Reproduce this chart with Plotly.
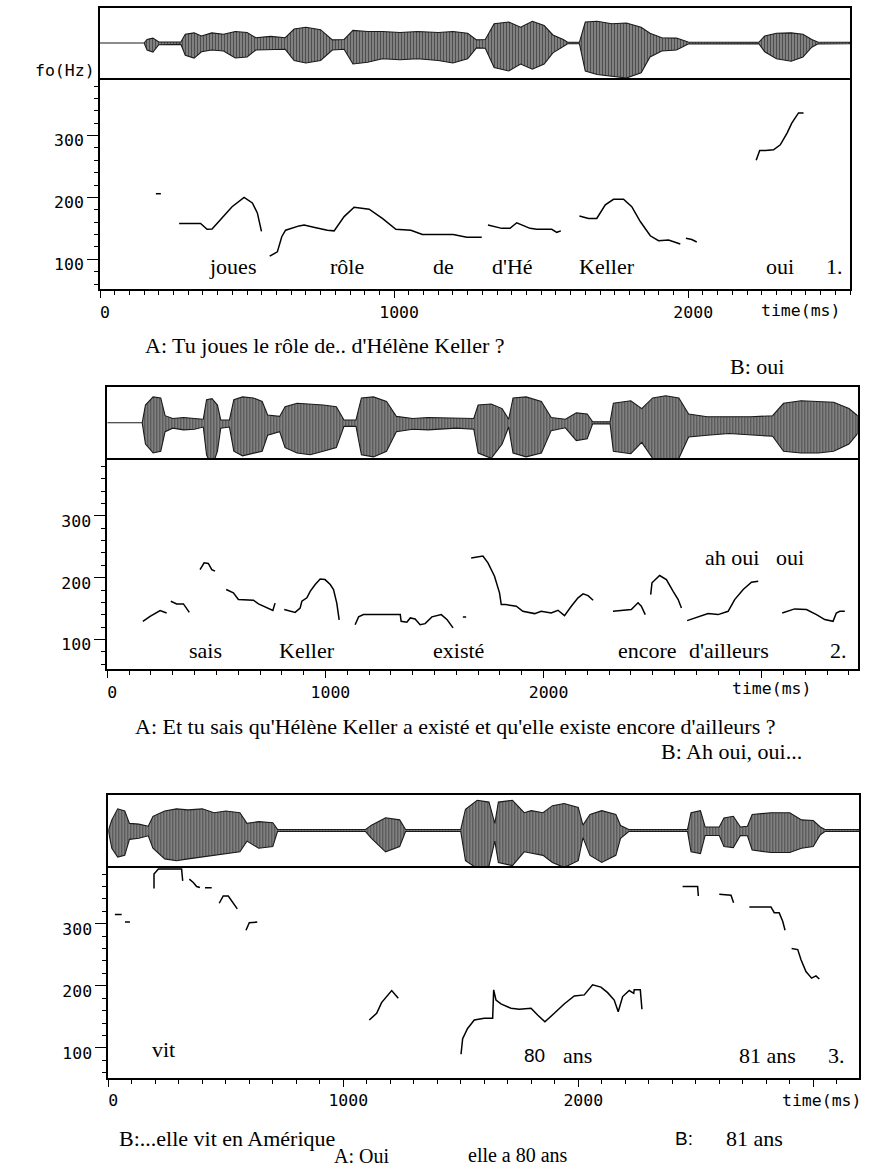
import plotly.graph_objects as go

W, H = 882, 1172

# ---------------- DATA ----------------
# F0 contours (time in ms, F0 in Hz); None separates voiced stretches
p1_f0_t = [190, 207, None,
           269, 342, 364, 381, 449, 490, 518, 535, 549, None,
           577, 603, 618, 631, 677, 694, 734, 773, 796, 830, 864, 915, 960, 1006, 1057, 1096, 1156, 1201, 1247, 1298, None,
           1319, 1366, 1394, 1417, 1462, 1485, 1536, 1553, 1567, None,
           1630, 1661, 1689, 1718, 1746, 1780, 1808, 1837, 1871, 1899, 1933, 1973, None,
           1992, 2012, 2029, None,
           2231, 2243, 2262, 2290, 2313, 2336, 2352, 2375, 2392]
p1_f0_hz = [206, 206, None,
            158, 158, 148.5, 149, 185, 200, 191, 175, 145, None,
            105, 112, 136.5, 147, 154, 155.5, 151, 147, 146, 169, 184, 181, 166, 148.5, 147, 140, 140, 140, 135.5, 135.5, None,
            155.5, 150, 150, 159, 150, 148.5, 148.5, 143.6, 146, None,
            170, 166, 166, 188, 197, 197, 185, 161, 138, 130, 131, 124.7, None,
            134, 132, 128, None,
            260, 276, 276, 277, 285, 304, 320, 336.5, 336.5]

p2_f0_t = [163, 196, 242, 272, None,
           291, 318, 349, 376, None,
           425, 444, 463, 479, 494, None,
           545, 578, 601, 670, 693, 731, 759, 769, None,
           811, 861, 884, 892, 915, 930, 953, 976, 998, 1022, 1037, 1052, 1063, None,
           1136, 1152, 1174, 1343, 1347, 1373, 1389, 1411, 1434, 1457, 1488, 1531, 1558, 1585, None,
           1630, 1645, None,
           1668, 1722, 1745, 1775, 1798, 1806, 1826, 1875, 1905, 1959, 1989, 2035, 2066, 2096, 2127, 2158, 2181, 2204, 2227, None,
           2318, 2402, 2433, 2448, 2466, None,
           2491, 2497, 2532, 2563, 2594, 2617, 2632, None,
           2658, 2708, 2754, 2800, 2846, 2876, 2915, 2953, 2984, None,
           3094, 3151, 3205, 3251, 3289, 3327, 3342, 3358, 3381]
p2_f0_hz = [129.6, 137.7, 147, 143, None,
            162, 157.7, 157.7, 144, None,
            213, 224, 223, 213, 210.6, None,
            181, 175.6, 164.7, 163.6, 157.7, 152, 147, 159, None,
            148.5, 144, 151, 162, 167.5, 178, 189, 198, 197, 189, 181, 159, 132, None,
            124, 136.7, 140.4, 140.4, 129.6, 128, 135, 133.4, 124, 125.8, 136.7, 140.4, 132, 119, None,
            136.7, 136.7, None,
            232, 235, 224, 202.5, 175.6, 156.6, 156.6, 154, 145.8, 142, 145.8, 143, 147.4, 138.8, 154, 167.5, 174, 171, 163.6, None,
            145.8, 148.5, 159.4, 154, 140.4, None,
            172.8, 191.8, 203.6, 197, 178, 164.7, 151, None,
            130.7, 136.7, 142, 140.4, 145.8, 164.7, 181, 192.8, 194.4, None,
            143, 149.6, 148.5, 140.4, 132.3, 129.6, 143, 145.8, 145.8]

p3_f0_t = [28, 57, None,
           71, 92, None,
           194.5, 194.5, 213, 312, 316.6, None,
           344.7, 361.7, 376, 390, None,
           411.5, 440, None,
           472, 489, 510.6, 532, 549, None,
           586, 600, 634, None,
           1110.6, 1142, 1163, 1185, 1206, 1234, None,
           1501, 1508, 1529, 1557.5, 1600, 1635.7, 1640, 1650, 1671, 1713.6, 1749, 1799, 1827, 1858, 1898, 1940,
           1983, 2025.5, 2061, 2096.6, 2125, 2153, 2170, 2189, 2217, 2236, 2238, 2264, 2271, None,
           2444, 2508, 2511, None,
           2600, 2650, 2661, None,
           2728, 2820, 2834, 2855, 2870, 2880, None,
           2908, 2934, 2948, 2969, 2993, 3011.5, 3026]
p3_f0_hz = [315, 315, None,
            302.6, 302.6, None,
            356.7, 380, 388, 388, 369, None,
            371.8, 366.4, 360, 358.3, None,
            358, 358, None,
            333, 344.7, 344.7, 334, 324, None,
            289.6, 301.6, 302.6, None,
            144.9, 155.7, 173, 182.7, 192.4, 180, None,
            89.8, 115, 131.4, 145, 147.6, 147.6, 193.5, 177, 170.8, 163.8, 162.2, 163.8, 153, 142, 155.7, 170.8,
            183.8, 185.4, 201.6, 198, 189, 177, 158.3, 182.7, 192.4, 188, 193.5, 193.5, 162.2, None,
            360, 360, 344.7, None,
            347.5, 345.9, 334, None,
            327, 327, 317.8, 317.8, 304, 289.6, None,
            260, 258.3, 242, 223, 212.4, 216, 211]

# Waveform envelopes (time in ms, upper / lower excursion in % of half-box)
p1_wave_t = [0, 150, 160, 180, 200, 275, 290, 320, 345, 380, 420, 460, 500, 530, 580, 630, 660, 700, 750, 790,
             830, 860, 910, 960, 1020, 1080, 1150, 1200, 1250, 1280, 1310, 1340, 1390, 1430, 1470, 1510, 1540,
             1575, 1590, 1630, 1650, 1690, 1740, 1790, 1840, 1870, 1910, 1960, 2000, 2240, 2260, 2300, 2350,
             2390, 2420, 2440, 2550]
p1_wave_up = [0, 0, 10, 14, 3, 3, 25, 29, 20, 29, 25, 33, 30, 15, 19, 15, 40, 45, 38, 9,
              10, 36, 33, 33, 30, 33, 30, 33, 28, 9, 10, 55, 60, 45, 62, 50, 23,
              10, 2, 2, 60, 62, 55, 57, 45, 28, 15, 14, 3, 2, 20, 28, 29,
              25, 10, 3, 2]
p1_wave_dn = [0, 0, 20, 26, 5, 4, 35, 43, 25, 20, 23, 43, 40, 20, 19, 18, 50, 57, 50, 20,
              18, 60, 55, 45, 48, 45, 50, 57, 45, 14, 15, 70, 80, 60, 75, 60, 28,
              10, 2, 2, 80, 90, 95, 100, 85, 40, 23, 20, 3, 2, 25, 45, 52,
              40, 12, 3, 2]

p2_wave_t = [0, 160, 175, 210, 245, 265, 300, 350, 400, 440, 455, 480, 505, 520, 560, 580, 620, 670, 710, 735,
             790, 815, 870, 930, 990, 1050, 1085, 1140, 1165, 1220, 1280, 1325, 1400, 1470, 1530, 1600, 1680,
             1700, 1760, 1810, 1840, 1860, 1920, 1990, 2035, 2100, 2150, 2200, 2225, 2305, 2320, 2400, 2450,
             2500, 2560, 2620, 2665, 2750, 2850, 2950, 3050, 3100, 3180, 3260, 3330, 3400, 3440]
p2_wave_up = [0, 0, 50, 73, 70, 20, 12, 15, 12, 10, 65, 68, 50, 8, 8, 65, 73, 70, 60, 22,
              18, 45, 55, 53, 50, 45, 8, 8, 70, 73, 60, 18, 12, 15, 14, 12, 12,
              50, 53, 40, 10, 70, 73, 60, 15, 10, 28, 25, 3, 3, 55, 62, 40,
              70, 76, 70, 25, 17, 17, 17, 20, 55, 62, 60, 58, 40, 20]
p2_wave_dn = [0, 0, 60, 85, 80, 25, 15, 20, 18, 12, 90, 124, 80, 15, 12, 80, 93, 85, 80, 35,
              25, 70, 85, 90, 80, 70, 10, 10, 90, 96, 80, 25, 18, 20, 18, 15, 18,
              85, 100, 60, 12, 85, 96, 85, 22, 14, 50, 45, 3, 3, 80, 87, 55,
              100, 127, 100, 40, 35, 30, 35, 38, 80, 85, 85, 80, 60, 30]

p3_wave_t = [0, 15, 40, 70, 90, 130, 170, 190, 240, 290, 340, 400, 450, 500, 560, 590, 640, 700, 720, 1095,
             1120, 1180, 1240, 1265, 1500, 1520, 1570, 1620, 1645, 1660, 1720, 1770, 1800, 1850, 1890, 1940,
             2000, 2020, 2050, 2100, 2160, 2180, 2215, 2465, 2480, 2520, 2540, 2600, 2620, 2660, 2690, 2720,
             2740, 2820, 2900, 2950, 3000, 3030, 3050, 3196]
p3_wave_up = [0, 30, 61, 55, 20, 18, 12, 40, 55, 61, 58, 61, 50, 55, 50, 20, 25, 22, 3, 3,
              15, 36, 30, 3, 3, 60, 85, 80, 20, 80, 85, 50, 56, 50, 70, 76,
              65, 15, 45, 56, 45, 14, 3, 3, 50, 56, 10, 10, 35, 40, 10, 12,
              45, 50, 50, 30, 28, 10, 3, 3]
p3_wave_dn = [0, 50, 75, 70, 25, 22, 15, 50, 80, 85, 80, 75, 70, 65, 60, 30, 50, 45, 3, 3,
              22, 60, 45, 3, 3, 85, 107, 100, 30, 90, 99, 60, 65, 70, 90, 104,
              85, 20, 70, 90, 70, 22, 3, 3, 60, 65, 14, 14, 45, 48, 14, 15,
              55, 62, 62, 50, 45, 12, 3, 3]

# Word labels placed under / over the contours (time ms, Hz)
p1_words = ["joues", "rôle", "de", "d'Hé", "Keller", "oui", "1."]
p1_words_t = [452, 839, 1167, 1404, 1723, 2311, 2498]
p1_words_hz = [88, 88, 88, 88, 88, 88, 88]

p2_words = ["sais", "Keller", "existé", "encore", "d'ailleurs", "2.", "ah oui", "oui"]
p2_words_t = [449, 916, 1609, 2478, 2852, 3350, 2865, 3128]
p2_words_hz = [82, 82, 82, 82, 82, 82, 232, 232]

p3_words = ["vit", "80", "ans", "81 ans", "3."]
p3_words_t = [234, 1813, 1997, 2806, 3097]
p3_words_hz = [97, 87.5, 87.5, 87.5, 87.5]

# Axis ticks
x_tick_vals = [0, 1000, 2000, 3000]
x_tick_text = ["0", "1000", "2000", ""]
y_tick_vals = [100, 200, 300]
y_tick_text = ["100", "200", "300"]

# ---------------- LAYOUT ----------------
SERIF = "Liberation Serif"
SANS = "Liberation Sans"
MONO = "DejaVu Sans Mono"
TXT = 22
MONO_SZ = 16.5

panels = [
    dict(x0=100, x1=850, wy0=8, wy1=78, fy1=289, xmax=2550, minor=50,
         f0=(p1_f0_t, p1_f0_hz), wave=(p1_wave_t, p1_wave_up, p1_wave_dn),
         words=(p1_words, p1_words_t, p1_words_hz)),
    dict(x0=107.3, x1=857.7, wy0=387.3, wy1=458.3, fy1=669.3, xmax=3440, minor=100,
         f0=(p2_f0_t, p2_f0_hz), wave=(p2_wave_t, p2_wave_up, p2_wave_dn),
         words=(p2_words, p2_words_t, p2_words_hz)),
    dict(x0=108.3, x1=859.3, wy0=795, wy1=866, fy1=1077.7, xmax=3196, minor=100,
         f0=(p3_f0_t, p3_f0_hz), wave=(p3_wave_t, p3_wave_up, p3_wave_dn),
         words=(p3_words, p3_words_t, p3_words_hz)),
]

fig = go.Figure()
layout = dict(width=W, height=H, margin=dict(l=0, r=0, t=0, b=0),
              paper_bgcolor="white", plot_bgcolor="white", showlegend=False,
              annotations=[])

LW = 1.7


def sx(k):
    return "x" if k == 1 else f"x{k}"


def sy(k):
    return "y" if k == 1 else f"y{k}"


def kx(k):
    return "xaxis" if k == 1 else f"xaxis{k}"


def ky(k):
    return "yaxis" if k == 1 else f"yaxis{k}"


for i, p in enumerate(panels):
    wa = 2 * i + 1      # waveform axes index
    fa = 2 * i + 2      # f0 axes index
    xdom = [p["x0"] / W, p["x1"] / W]

    # waveform envelope, filled with a dense vertical-stroke texture
    t, up, dn = p["wave"]
    fig.add_trace(go.Scatter(
        x=list(t) + list(t)[::-1],
        y=list(up) + [-d for d in dn][::-1],
        mode="lines", fill="toself", fillcolor="#8a8a8a",
        fillpattern=dict(shape="|", size=3, solidity=0.45, fgcolor="#111111",
                         bgcolor="#8a8a8a", fillmode="overlay"),
        line=dict(color="#1a1a1a", width=1.1),
        xaxis=sx(wa), yaxis=sy(wa), hoverinfo="skip"))
    layout[kx(wa)] = dict(domain=xdom, range=[0, p["xmax"]], showticklabels=False,
                          ticks="", anchor=sy(wa), showline=True, linecolor="black",
                          linewidth=LW, mirror=True, zeroline=False, showgrid=False)
    layout[ky(wa)] = dict(domain=[1 - p["wy1"] / H, 1 - p["wy0"] / H], range=[-100, 100],
                          showticklabels=False, ticks="", anchor=sx(wa), showline=True,
                          linecolor="black", linewidth=LW, mirror=True, zeroline=False,
                          showgrid=False)

    # F0 contour
    ft, fh = p["f0"]
    fig.add_trace(go.Scatter(x=ft, y=fh, mode="lines", connectgaps=False,
                             line=dict(color="black", width=1.5),
                             xaxis=sx(fa), yaxis=sy(fa), hoverinfo="skip"))
    layout[kx(fa)] = dict(domain=xdom, range=[0, p["xmax"]], anchor=sy(fa),
                          tickmode="array", tickvals=x_tick_vals, ticktext=x_tick_text,
                          ticks="outside", ticklen=7, tickwidth=1.3, tickcolor="black",
                          minor=dict(dtick=p["minor"], tick0=0, ticks="outside", ticklen=4,
                                     tickwidth=1.2, tickcolor="black"),
                          tickfont=dict(family=MONO, size=MONO_SZ, color="black"),
                          ticklabelshift=5, ticklabelstandoff=0,
                          showline=True, linecolor="black", linewidth=LW, mirror=False,
                          zeroline=False, showgrid=False)
    layout[ky(fa)] = dict(domain=[1 - p["fy1"] / H, 1 - p["wy1"] / H], range=[52, 393],
                          anchor=sx(fa),
                          tickmode="array", tickvals=y_tick_vals, ticktext=y_tick_text,
                          ticks="outside", ticklen=11, tickwidth=1.3, tickcolor="black",
                          minor=dict(dtick=20, tick0=0, ticks="outside", ticklen=4,
                                     tickwidth=1.2, tickcolor="black"),
                          tickfont=dict(family=MONO, size=MONO_SZ, color="black"),
                          ticklabelshift=5, ticklabelstandoff=0,
                          showline=True, linecolor="black", linewidth=LW, mirror=True,
                          zeroline=False, showgrid=False)

    words, wt, wh = p["words"]
    for w, tt, hh in zip(words, wt, wh):
        fam = SANS if w == "80" else SERIF
        layout["annotations"].append(dict(
            text=w, x=tt, y=hh, xref=sx(fa), yref=sy(fa), showarrow=False,
            xanchor="center", yanchor="middle",
            font=dict(family=fam, size=TXT if fam == SERIF else 19, color="black")))


def ann(text, x, y, xanchor="left", family=SERIF, size=TXT):
    layout["annotations"].append(dict(
        text=text, x=x / W, y=1 - y / H, xref="paper", yref="paper",
        showarrow=False, xanchor=xanchor, yanchor="middle",
        font=dict(family=family, size=size, color="black")))


ann("fo(Hz)", 97, 71, xanchor="right", family=MONO, size=MONO_SZ)
ann("time(ms)", 800, 310, xanchor="center", family=MONO, size=MONO_SZ)
ann("time(ms)", 771, 688, xanchor="center", family=MONO, size=MONO_SZ)
ann("time(ms)", 821, 1100, xanchor="center", family=MONO, size=MONO_SZ)

ann("A: Tu joues le rôle de.. d'Hélène Keller ?", 143, 345)
ann("B: oui", 728, 366)
ann("A: Et tu sais qu'Hélène Keller a existé et qu'elle existe encore d'ailleurs ?", 133, 726)
ann("B: Ah oui, oui...", 659, 751)
ann("B:...elle vit en Amérique", 117, 1138)
ann("A: Oui", 332, 1156, size=20)
ann("elle a 80 ans", 466, 1155, size=20)
ann("B:", 673, 1138, family=SANS, size=19)
ann("81 ans", 724, 1138)

fig.update_layout(**layout)
fig.write_html("out.html", config={"displayModeBar": False},
               post_script="document.body.style.margin='0px';document.body.style.padding='0px';")
